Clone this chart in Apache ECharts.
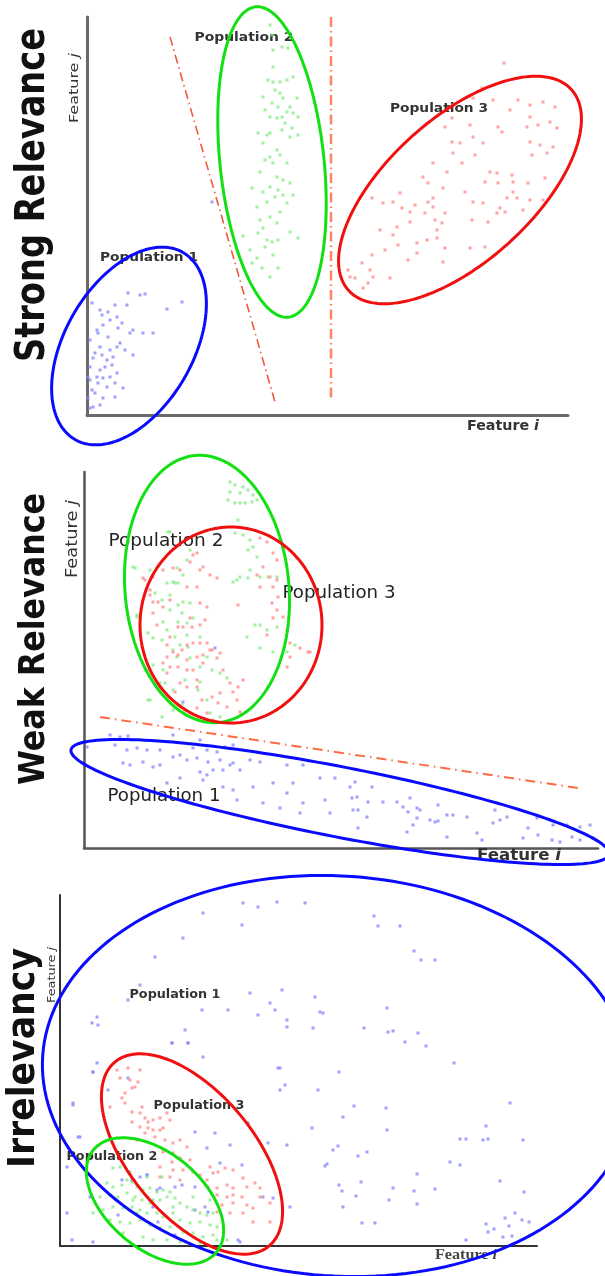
<!DOCTYPE html>
<html><head><meta charset="utf-8">
<script src="https://cdn.jsdelivr.net/npm/echarts/dist/echarts.min.js"></script>
<style>html,body{margin:0;padding:0;background:#fff}#c{width:605px;height:1276px}</style>
</head><body><div id="c"></div>
<script>
// ---------------- DATA (axis units: offset from each panel's origin) ----------------
const panelTitles = ['Strong Relevance', 'Weak Relevance', 'Irrelevancy'];
const popNames = ['Population 1', 'Population 2', 'Population 3'];
const featWord = 'Feature ', featI = 'i', featJ = 'j';

const p1Blue = [[5,112],[13,105],[28,110],[41,122],[53,120],[58,121],[40,110],[95,113],[80,106],[66,82],[56,82],[46,85],[35,92],[23,95],[16,90],[10,85],[3,75],[13,68],[23,65],[30,68],[38,65],[46,60],[20,55],[6,57],[3,48],[13,45],[25,50],[30,42],[36,27],[28,18],[20,28],[11,32],[5,25],[6,8],[13,10],[1,17],[16,37],[10,38],[21,78],[30,98],[15,100],[33,72],[8,62],[18,48],[3,35],[26,58],[11,82],[16,17],[23,38],[8,22],[3,7],[15,60],[31,87],[21,103],[43,82],[28,32],[1,38],[125,213]];
const p1Green = [[183,390],[185,380],[195,368],[186,365],[201,367],[186,348],[181,335],[186,333],[193,333],[200,335],[206,338],[176,318],[188,325],[193,322],[196,317],[210,317],[185,312],[191,308],[203,308],[178,305],[200,303],[195,298],[206,302],[190,297],[211,298],[183,298],[198,292],[205,287],[195,285],[180,280],[171,282],[203,278],[211,280],[183,282],[176,272],[190,265],[183,258],[193,260],[178,255],[186,252],[200,252],[173,243],[190,238],[196,235],[203,232],[183,228],[191,225],[165,227],[176,223],[196,220],[206,220],[188,218],[180,213],[170,208],[193,203],[200,212],[173,195],[183,198],[190,192],[176,187],[171,182],[203,183],[211,177],[180,175],[185,173],[191,175],[156,179],[163,165],[178,168],[170,157],[186,160],[175,147],[191,147],[183,138],[165,152]];
const p1Red = [[417,352],[395,327],[386,317],[406,315],[431,315],[443,310],[456,313],[468,308],[423,305],[365,297],[383,290],[411,288],[440,288],[451,290],[463,293],[470,287],[443,298],[358,288],[415,283],[386,278],[365,273],[373,272],[396,272],[443,273],[453,270],[466,268],[366,262],[388,260],[445,260],[460,262],[346,252],[375,252],[360,243],[403,243],[410,242],[425,240],[458,237],[336,238],[341,232],[398,233],[411,232],[441,232],[426,233],[356,227],[378,223],[426,223],[313,222],[285,217],[306,213],[296,212],[328,210],[346,217],[341,213],[386,213],[396,212],[420,217],[430,217],[443,215],[456,215],[413,207],[410,202],[418,203],[436,205],[315,207],[323,203],[338,202],[358,202],[346,208],[323,193],[348,195],[355,192],[385,195],[401,193],[293,185],[310,188],[350,185],[306,180],[340,175],[350,177],[298,165],[311,170],[330,172],[358,167],[383,167],[398,168],[285,160],[330,162],[321,155],[356,153],[275,152],[261,145],[283,145],[263,138],[286,138],[281,132],[303,137],[276,127],[268,137]];

const p2Blue = [[26,113],[36,111],[44,112],[3,101],[31,103],[43,98],[53,100],[63,98],[76,98],[89,113],[109,100],[116,108],[123,98],[133,96],[141,101],[149,103],[39,85],[46,83],[59,86],[69,81],[76,83],[89,91],[96,93],[103,88],[113,90],[124,86],[136,88],[146,83],[156,78],[116,76],[123,73],[129,78],[139,78],[149,85],[166,88],[176,86],[203,83],[96,70],[119,68],[139,61],[149,58],[169,61],[189,65],[203,55],[209,65],[153,48],[179,45],[196,40],[83,65],[219,83],[236,70],[251,70],[266,61],[271,66],[288,61],[219,45],[241,48],[268,50],[273,51],[284,46],[299,46],[313,46],[326,50],[246,35],[269,38],[274,38],[283,31],[319,41],[324,36],[333,40],[336,38],[354,43],[363,33],[369,33],[383,31],[333,30],[346,28],[351,26],[354,27],[411,38],[409,25],[416,28],[423,31],[453,30],[274,20],[323,16],[329,23],[363,11],[393,15],[398,8],[444,20],[454,13],[469,23],[483,23],[496,21],[506,23],[439,10],[468,8],[476,6],[488,11],[496,8],[509,10],[216,35],[131,200],[99,146]];
const p2Green = [[146,366],[151,363],[159,361],[146,356],[156,355],[164,358],[169,353],[144,348],[151,345],[156,345],[161,345],[168,346],[173,348],[154,328],[151,315],[159,313],[166,308],[164,298],[169,301],[173,291],[166,278],[176,271],[156,271],[149,266],[164,270],[86,316],[106,298],[103,288],[93,280],[99,273],[89,266],[94,265],[83,265],[66,278],[49,281],[71,255],[78,248],[86,253],[99,246],[94,243],[106,245],[86,238],[98,235],[94,226],[103,225],[109,230],[79,226],[64,215],[69,210],[78,208],[83,218],[91,211],[103,213],[116,211],[89,198],[96,203],[104,201],[93,191],[106,190],[123,191],[163,211],[171,223],[176,223],[183,218],[193,221],[176,200],[189,196],[203,196],[211,203],[69,183],[79,178],[116,181],[128,178],[136,175],[143,170],[101,168],[114,158],[116,166],[89,158],[81,165],[66,148],[89,138],[98,143],[123,148],[126,135],[136,131],[78,131],[53,231],[61,178],[153,268],[184,271],[193,271],[51,280],[53,233],[64,148],[76,165],[91,265],[84,316]];
const p2Red = [[176,310],[183,306],[189,295],[193,288],[179,281],[173,273],[186,271],[193,268],[189,261],[176,261],[194,251],[188,245],[193,238],[189,230],[199,231],[203,218],[206,205],[226,196],[206,191],[203,181],[183,213],[109,293],[113,295],[106,286],[116,278],[126,273],[133,270],[119,281],[89,280],[96,278],[79,278],[69,271],[61,268],[66,253],[74,246],[79,241],[69,235],[86,248],[103,261],[113,261],[116,245],[123,241],[121,228],[106,230],[108,221],[116,223],[99,221],[94,221],[86,211],[83,203],[89,196],[94,193],[98,198],[103,203],[109,205],[116,205],[123,205],[126,198],[119,193],[113,191],[103,188],[94,181],[86,181],[79,185],[83,175],[103,178],[109,178],[119,185],[133,190],[136,195],[139,178],[146,165],[154,161],[159,168],[149,156],[136,155],[128,151],[118,148],[113,161],[103,161],[96,165],[91,156],[113,140],[123,135],[134,145],[153,148],[156,136],[129,128],[143,141],[128,198],[113,168],[83,191],[73,223],[154,243],[59,270],[69,246],[66,258],[224,196],[216,200]];

const p3Blue = [[183,343],[198,339],[217,344],[143,333],[182,321],[123,308],[95,289],[80,261],[68,246],[37,229],[32,223],[38,221],[125,216],[112,203],[128,203],[142,236],[168,236],[190,253],[210,243],[222,256],[198,231],[215,236],[227,226],[227,219],[37,183],[33,174],[13,141],[20,109],[220,178],[225,161],[227,101],[188,123],[170,101],[160,83],[122,61],[87,71],[72,66],[97,56],[135,36],[148,34],[178,6],[30,49],[7,33],[12,6],[213,48],[230,39],[143,189],[68,168],[245,343],[314,330],[318,320],[340,320],[354,295],[361,286],[375,286],[255,249],[260,234],[263,233],[253,218],[327,238],[304,218],[328,214],[333,215],[345,204],[358,213],[366,200],[394,183],[279,174],[258,156],[294,140],[326,138],[283,129],[252,118],[327,116],[450,143],[426,120],[400,107],[406,107],[423,106],[428,107],[463,106],[273,96],[278,100],[298,90],[307,94],[267,82],[265,80],[390,84],[400,81],[357,72],[279,61],[282,55],[301,64],[296,50],[333,58],[354,55],[375,57],[357,42],[329,46],[283,39],[440,65],[464,54],[455,33],[462,26],[469,24],[445,28],[449,20],[426,22],[434,17],[428,14],[443,9],[452,10],[406,6],[302,23],[315,23],[112,203],[128,203],[33,174],[13,143],[48,156],[18,109],[7,79],[87,71],[80,69],[100,58],[62,66],[115,59],[135,59],[147,98],[155,113],[135,114],[182,81],[203,49],[208,103],[218,178],[220,156],[98,24],[115,11],[33,4],[93,39],[145,39],[58,31],[180,4]];
const p3Red = [[57,176],[68,178],[80,176],[60,168],[70,166],[78,164],[72,158],[75,159],[65,153],[62,148],[65,143],[50,139],[72,134],[80,133],[85,128],[93,126],[100,128],[107,133],[110,126],[72,124],[80,119],[88,118],[93,116],[100,116],[85,113],[95,109],[105,106],[113,103],[120,106],[127,99],[103,94],[113,93],[120,88],[130,86],[112,84],[100,79],[113,76],[123,76],[110,69],[120,66],[100,69],[133,74],[140,71],[147,66],[153,73],[158,74],[165,78],[173,76],[148,59],[157,58],[167,61],[173,58],[183,68],[187,59],[195,63],[200,58],[157,51],[167,49],[173,51],[182,49],[173,43],[162,41],[187,41],[193,38],[157,34],[170,33],[183,33],[210,24],[200,49],[210,43],[193,24],[150,79],[82,139],[88,124],[77,106],[103,118]];
const p3Green = [[47,63],[53,59],[62,61],[67,66],[72,64],[77,59],[83,56],[90,58],[97,54],[103,56],[110,54],[40,49],[50,51],[58,49],[67,53],[75,49],[82,46],[90,43],[100,46],[107,49],[115,48],[120,43],[127,39],[133,36],[140,33],[147,31],[153,33],[43,36],[53,39],[63,38],[72,39],[80,36],[87,33],[97,33],[103,29],[113,33],[120,26],[130,23],[140,24],[150,21],[157,19],[33,33],[50,26],[60,24],[70,23],[80,26],[90,21],[100,18],[110,19],[123,14],[133,13],[143,9],[153,11],[83,9],[93,6],[107,6],[63,13],[120,4],[140,3],[157,6],[167,6],[73,46],[113,39],[133,49],[150,46],[53,78],[60,79],[70,74],[87,69],[102,69],[77,33],[93,46]];

// ellipses: [centerX, centerY, semiMajor, semiMinor, angleDeg]
const p1Ellipses = { blue: [42,69,108,64,60], green: [185,253,156,52,96], red: [373,225,150,72,42] };
const p2Ellipses = { green: [123,259,134,82,95], red: [147,223,98,91,90], blue: [256,46,274,35,-11] };
const p3Ellipses = { blue: [278,170,296,200,-4], red: [132,92,120,62,-50], green: [95,45,80,48,-40] };

// separating lines
const p1SlantLine = [[83,378],[188,13]];
const p1VertLine = [[244,398],[244,17]];
const p2SlantLine = [[16,131],[494,60]];

// ---------------- LAYOUT ----------------
const grids = [
  {left:87, top:17, width:481, height:398},
  {left:84, top:472, width:514, height:376},
  {left:60, top:895, width:477, height:351}
];
const axisStyle = [
  {color:'#6a6a6a', width:3},
  {color:'#555', width:2.5},
  {color:'#333', width:2}
];
const ptColor = {blue:'#8888ff', green:'#88ec88', red:'#ff8c8c'};
const lineColor = {blue:'#0a0aff', green:'#12e012', red:'#f01010'};

const chart = echarts.init(document.getElementById('c'), null, {renderer:'canvas'});
const mctx = document.createElement('canvas').getContext('2d');
function measure(txt, font) { mctx.font = font; return mctx.measureText(txt).width || 1; }
function fitText(txt, font, cx, cy, len, rot, color) {
  return {type:'text', x:cx, y:cy, rotation:rot||0, scaleX:len/measure(txt, font), z:1, silent:true,
    style:{text:txt, font:font, fill:color, align:'center', verticalAlign:'middle'}};
}
function featText(letter, font, itFont, cx, cy, len, rot, color) {
  const w = measure(featWord, font) + measure(letter, itFont);
  return {type:'text', x:cx, y:cy, rotation:rot||0, scaleX:len/w, z:1, silent:true,
    style:{text:'{a|'+featWord+'}{b|'+letter+'}', align:'center', verticalAlign:'middle',
      rich:{a:{font:font, fill:color}, b:{font:itFont, fill:color}}}};
}
const R = Math.PI/2;
const DV = '"DejaVu Sans", sans-serif';
const SR = '"Liberation Serif", serif';
const graphics = [
  fitText(panelTitles[0], 'bold 41px '+DV, 33, 195, 334, R, '#111'),
  fitText(panelTitles[1], 'bold 36px '+DV, 35, 639, 292, R, '#111'),
  fitText(panelTitles[2], 'bold 37px '+DV, 24, 1058, 220, R, '#111'),
  // panel 1
  featText(featJ, '13px '+DV, 'italic 13px '+DV, 75, 88, 70, R, '#333'),
  featText(featI, 'bold 14px '+DV, 'italic bold 14px '+DV, 503, 426, 72, 0, '#333'),
  fitText(popNames[1], 'bold 13px '+DV, 244, 38, 99, 0, '#333'),
  fitText(popNames[2], 'bold 13px '+DV, 439, 109, 98, 0, '#333'),
  fitText(popNames[0], 'bold 13px '+DV, 149, 258, 98, 0, '#333'),
  // panel 2
  featText(featJ, '15px '+DV, 'italic 15px '+DV, 73, 539, 78, R, '#333'),
  featText(featI, 'bold 16px '+DV, 'italic bold 16px '+DV, 519, 856, 84, 0, '#333'),
  fitText(popNames[1], '17px '+DV, 166, 542, 115, 0, '#222'),
  fitText(popNames[2], '17px '+DV, 339, 594, 113, 0, '#222'),
  fitText(popNames[0], '17px '+DV, 164, 797, 113, 0, '#222'),
  // panel 3
  featText(featJ, '11px '+DV, 'italic 11px '+DV, 52, 975, 56, R, '#333'),
  featText(featI, 'bold 14px '+SR, 'italic bold 14px '+SR, 466, 1255, 62, 0, '#444'),
  fitText(popNames[0], 'bold 12px '+DV, 175, 995, 91, 0, '#333'),
  fitText(popNames[2], 'bold 12px '+DV, 199, 1106, 91, 0, '#333'),
  fitText(popNames[1], 'bold 12px '+DV, 112, 1157, 91, 0, '#333')
];

function scatter(i, data, color) {
  return {type:'scatter', xAxisIndex:i, yAxisIndex:i, data:data, symbol:'rect', symbolSize:3,
    itemStyle:{color:color}, silent:true, z:3, animation:false};
}
function ellipse(i, e, color, width) {
  return {type:'custom', xAxisIndex:i, yAxisIndex:i, clip:false, silent:true, z:5, animation:false,
    data:[e],
    renderItem:function(params, api){
      const cx=api.value(0), cy=api.value(1), a=api.value(2), b=api.value(3), ang=api.value(4)*Math.PI/180;
      const pts=[];
      for(let k=0;k<180;k++){
        const t=k/180*2*Math.PI;
        const x=cx+a*Math.cos(t)*Math.cos(ang)-b*Math.sin(t)*Math.sin(ang);
        const y=cy+a*Math.cos(t)*Math.sin(ang)+b*Math.sin(t)*Math.cos(ang);
        pts.push(api.coord([x,y]));
      }
      return {type:'polygon', shape:{points:pts}, style:{fill:null, stroke:color, lineWidth:width}};
    }};
}
function dashLine(i, data, color, width, dash) {
  return {type:'line', xAxisIndex:i, yAxisIndex:i, data:data, symbol:'none', silent:true, z:4,
    animation:false, lineStyle:{color:color, width:width, type:dash}};
}

const xAxes = grids.map((g,i)=>({gridIndex:i, type:'value', min:0, max:g.width,
  axisLine:{show:true, onZero:false, lineStyle:axisStyle[i]}, axisTick:{show:false}, axisLabel:{show:false}, splitLine:{show:false}}));
const yAxes = grids.map((g,i)=>({gridIndex:i, type:'value', min:0, max:g.height,
  axisLine:{show:true, onZero:false, lineStyle:axisStyle[i]}, axisTick:{show:false}, axisLabel:{show:false}, splitLine:{show:false}}));

chart.setOption({
  animation:false,
  backgroundColor:'#fff',
  grid: grids.map(g=>Object.assign({containLabel:false}, g)),
  xAxis: xAxes, yAxis: yAxes,
  graphic: graphics,
  series: [
    scatter(0, p1Blue, ptColor.blue), scatter(0, p1Green, ptColor.green), scatter(0, p1Red, ptColor.red),
    dashLine(0, p1SlantLine, '#f05a3a', 1.6, [9,4,1.5,4]),
    dashLine(0, p1VertLine, '#ff8466', 2.5, [10,4,1.5,4]),
    ellipse(0, p1Ellipses.blue, lineColor.blue, 3),
    ellipse(0, p1Ellipses.green, lineColor.green, 3),
    ellipse(0, p1Ellipses.red, lineColor.red, 3),

    scatter(1, p2Blue, ptColor.blue), scatter(1, p2Green, ptColor.green), scatter(1, p2Red, ptColor.red),
    dashLine(1, p2SlantLine, '#ff6a45', 2, [10,5,1.5,5]),
    ellipse(1, p2Ellipses.green, lineColor.green, 3),
    ellipse(1, p2Ellipses.red, lineColor.red, 3),
    ellipse(1, p2Ellipses.blue, lineColor.blue, 3),

    scatter(2, p3Blue, ptColor.blue), scatter(2, p3Red, ptColor.red), scatter(2, p3Green, ptColor.green),
    ellipse(2, p3Ellipses.blue, lineColor.blue, 3),
    ellipse(2, p3Ellipses.red, lineColor.red, 3),
    ellipse(2, p3Ellipses.green, lineColor.green, 3)
  ]
});
</script></body></html>
